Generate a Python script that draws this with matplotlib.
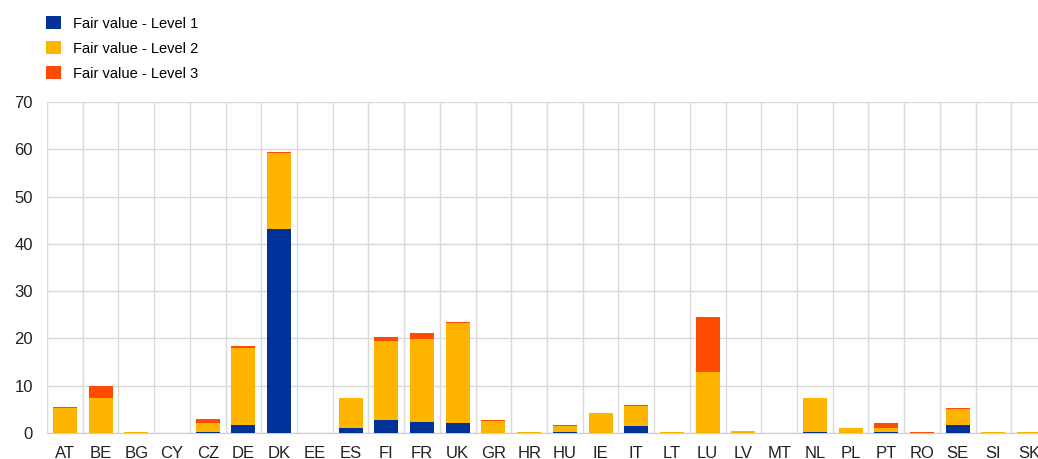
import matplotlib.pyplot as plt
import numpy as np

plt.rcParams["font.family"] = ["Liberation Sans", "DejaVu Sans"]

countries = ["AT", "BE", "BG", "CY", "CZ", "DE", "DK", "EE", "ES", "FI", "FR", "UK", "GR", "HR",
             "HU", "IE", "IT", "LT", "LU", "LV", "MT", "NL", "PL", "PT", "RO", "SE", "SI", "SK"]
level1 = [0.1, 0.1, 0.0, 0.0, 0.3, 1.6, 43.1, 0.0, 1.1, 2.7, 2.4, 2.2, 0.0, 0.0,
          0.2, 0.0, 1.5, 0.0, 0.0, 0.0, 0.0, 0.3, 0.0, 0.2, 0.0, 1.7, 0.0, 0.0]
level2 = [5.2, 7.4, 0.3, 0.1, 1.8, 16.4, 16.1, 0.1, 6.2, 16.8, 17.4, 21.0, 2.6, 0.2,
          1.3, 4.3, 4.3, 0.3, 12.9, 0.4, 0.1, 7.0, 1.0, 0.9, 0.05, 3.4, 0.2, 0.3]
level3 = [0.1, 2.4, 0.0, 0.0, 0.8, 0.4, 0.2, 0.0, 0.1, 0.7, 1.4, 0.3, 0.15, 0.1,
          0.2, 0.0, 0.1, 0.0, 11.6, 0.1, 0.0, 0.2, 0.1, 1.1, 0.2, 0.1, 0.1, 0.0]
series_names = ["Fair value - Level 1", "Fair value - Level 2", "Fair value - Level 3"]
colors = ["#003299", "#FFB400", "#FF4B00"]

fig = plt.figure(figsize=(10.38, 4.59), dpi=100)
ax = fig.add_axes([47 / 1038, 26 / 459, 1000 / 1038, 331 / 459])

x = np.arange(len(countries))
l1 = np.array(level1)
l2 = np.array(level2)
l3 = np.array(level3)
width = 0.67
handles = []
handles.append(ax.bar(x, l1, width, color=colors[0], label=series_names[0], zorder=3))
handles.append(ax.bar(x, l2, width, bottom=l1, color=colors[1], label=series_names[1], zorder=3))
handles.append(ax.bar(x, l3, width, bottom=l1 + l2, color=colors[2], label=series_names[2], zorder=3))

ax.set_xlim(-0.5, len(countries) - 0.5)
ax.set_ylim(0, 70)
ax.set_yticks(range(0, 71, 10))
ax.set_xticks(x)
ax.set_xticklabels(countries)
ax.set_xticks(np.arange(-0.5, len(countries), 1), minor=True)
ax.grid(axis="y", color="#d9d9d9", linewidth=1, zorder=0)
ax.grid(axis="x", which="minor", color="#d9d9d9", linewidth=1, zorder=0)
ax.tick_params(axis="both", which="both", length=0, labelsize=12, colors="#222222")
ax.tick_params(axis="x", pad=9)
ax.tick_params(axis="y", pad=10)
for side in ["top", "right", "left"]:
    ax.spines[side].set_visible(False)
ax.spines["bottom"].set_color("#cccccc")

fig.legend(handles=handles, loc="upper left", bbox_to_anchor=(0.032, 0.993),
           frameon=False, fontsize=10.5, handlelength=1.0, handleheight=1.0,
           handletextpad=0.8, labelspacing=0.72, borderaxespad=0.5)

fig.savefig("out.png", dpi=100)
